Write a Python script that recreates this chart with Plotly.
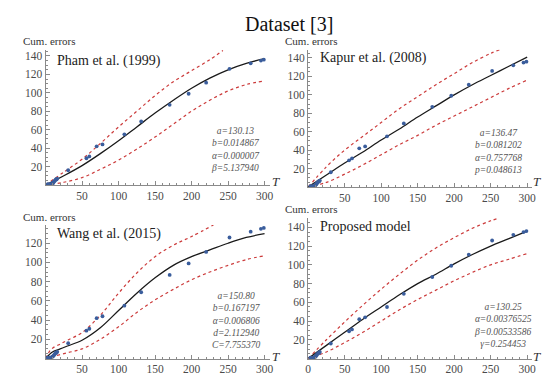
import plotly.graph_objects as go

# ---------------- data ----------------
obs_T = [3, 5, 8, 9, 10, 11, 12, 13, 14, 15, 16, 31, 56, 60, 70, 78, 108, 131, 170, 196, 220, 252, 281, 295, 299]
obs_v = [1, 1, 1, 2, 2, 3, 4, 5, 6, 6, 7, 16, 29, 31, 42, 44, 55, 69, 87, 99, 111, 126, 132, 135, 136]

# Pham et al. (1999)
pham_T = [0, 25, 50, 75, 100, 125, 150, 175, 200, 225, 250, 275, 300]
pham_fit = [0, 10, 21, 34, 48, 63, 78, 92, 105, 116, 125, 132, 137]
pham_up_T = [0, 25, 50, 75, 100, 125, 150, 175, 200, 225, 243]
pham_up = [0, 14, 28, 45, 63, 80, 97, 112, 124, 136, 146]
pham_lo = [0, 3, 8, 17, 27, 39, 52, 66, 80, 92, 102, 109, 113]

# Kapur et al. (2008)
kap_T = [0, 25, 50, 75, 100, 125, 150, 175, 200, 225, 250, 275, 300]
kap_fit = [0, 13, 26, 38, 51, 63, 76, 88, 100, 111, 121, 131, 141]
kap_up_T = [0, 25, 50, 75, 100, 125, 150, 175, 200, 225, 250, 262]
kap_up = [0, 22, 40, 55, 70, 85, 98, 111, 123, 135, 145, 149]
kap_lo = [0, 5, 14, 24, 35, 46, 56, 67, 77, 87, 97, 107, 116]

# Wang et al. (2015)
wang_T = [0, 5, 10, 20, 30, 50, 75, 100, 125, 150, 175, 200, 225, 250, 275, 300]
wang_fit = [0, 4, 7, 10, 13, 19, 32, 50, 68, 84, 97, 106, 113, 120, 126, 130]
wang_up_T = [0, 5, 10, 20, 30, 50, 75, 100, 125, 150, 175, 200, 230]
wang_up = [0, 7, 11, 15, 19, 27, 45, 68, 89, 106, 118, 127, 139]
wang_lo_T = [0, 10, 30, 50, 75, 100, 125, 150, 175, 200, 225, 250, 275, 300]
wang_lo = [0, 2, 6, 10, 20, 33, 48, 61, 72, 82, 90, 97, 103, 107]

# Proposed model
prop_T = [0, 25, 50, 75, 100, 125, 150, 175, 200, 225, 250, 275, 300]
prop_fit = [0, 14, 28, 42, 55, 68, 80, 90, 101, 111, 120, 128, 136]
prop_up_T = [0, 25, 50, 75, 100, 125, 150, 175, 200, 225, 250, 262]
prop_up = [0, 20, 39, 57, 74, 90, 105, 118, 129, 139, 147, 150]
prop_lo = [0, 7, 17, 28, 40, 52, 63, 73, 83, 92, 100, 106, 112]

titles = ["Pham et al. (1999)", "Kapur et al. (2008)", "Wang et al. (2015)", "Proposed model"]
params = [
    ["a=130.13", "b=0.014867", "α=0.000007", "β=5.137940"],
    ["a=136.47", "b=0.081202", "α=0.757768", "p=0.048613"],
    ["a=150.80", "b=0.167197", "α=0.006806", "d=2.112940", "C=7.755370"],
    ["a=130.25", "α=0.00376525", "β=0.00533586", "γ=0.254453"],
]

# ---------------- layout helpers ----------------
W, H = 550, 375
def fx(p): return p / W
def fy(p): return 1 - p / H

SERIF = "Liberation Serif, Times New Roman, serif"
BLACK = "#1a1a1a"
RED = "#cc3b3b"
BLUE = "#3a5d9c"
AXC = "#8a8a8a"
TXT = "#4a4a4a"

panels = [
    dict(x0=35, x1=262, yb=177, yt=41.5, ymax=147, yticks=[20, 40, 60, 80, 100, 120, 140], xt0=False),
    dict(x0=301, x1=528, yb=179, yt=41.7, ymax=149, yticks=[20, 40, 60, 80, 100, 120, 140], xt0=False),
    dict(x0=35, x1=262, yb=350.5, yt=217, ymax=139, yticks=[20, 40, 60, 80, 100, 120], xt0=False),
    dict(x0=301, x1=528, yb=350.5, yt=210, ymax=150, yticks=[20, 40, 60, 80, 100, 120, 140], xt0=True),
]

curves = [
    (pham_T, pham_fit, pham_up_T, pham_up, pham_T, pham_lo),
    (kap_T, kap_fit, kap_up_T, kap_up, kap_T, kap_lo),
    (wang_T, wang_fit, wang_up_T, wang_up, wang_lo_T, wang_lo),
    (prop_T, prop_fit, prop_up_T, prop_up, prop_T, prop_lo),
]

fig = go.Figure()
layout = dict(
    width=W, height=H, margin=dict(l=0, r=0, t=0, b=0),
    paper_bgcolor="white", plot_bgcolor="white", showlegend=False,
    font=dict(family=SERIF, color=TXT),
)
annotations = []

for i, (p, c) in enumerate(zip(panels, curves)):
    n = i + 1
    xa = "x" if n == 1 else f"x{n}"
    ya = "y" if n == 1 else f"y{n}"
    fT, fv, uT, uv, lT, lv = c
    fig.add_trace(go.Scatter(x=uT, y=uv, mode="lines", line=dict(color=RED, dash="dot", width=1.2, shape="spline"),
                             xaxis=xa, yaxis=ya))
    fig.add_trace(go.Scatter(x=lT, y=lv, mode="lines", line=dict(color=RED, dash="dot", width=1.2, shape="spline"),
                             xaxis=xa, yaxis=ya))
    fig.add_trace(go.Scatter(x=fT, y=fv, mode="lines", line=dict(color=BLACK, width=1.3, shape="spline"),
                             xaxis=xa, yaxis=ya))
    fig.add_trace(go.Scatter(x=obs_T, y=obs_v, mode="markers", marker=dict(color=BLUE, size=3.8),
                             cliponaxis=False, xaxis=xa, yaxis=ya))
    xticks = ([0] if p["xt0"] else []) + [50, 100, 150, 200, 250, 300]
    xk = "xaxis" if n == 1 else f"xaxis{n}"
    yk = "yaxis" if n == 1 else f"yaxis{n}"
    layout[xk] = dict(
        domain=[fx(p["x0"]), fx(p["x1"])], range=[0, 307], anchor=ya,
        showgrid=False, zeroline=False, showline=True, linecolor=AXC, linewidth=1,
        tickmode="array", tickvals=xticks, ticktext=[str(t) for t in xticks],
        ticks="inside", ticklen=4, tickcolor=AXC,
        minor=dict(ticks="inside", ticklen=2, tickcolor=AXC, dtick=10, showgrid=False),
        tickfont=dict(family=SERIF, size=11.5, color=TXT),
    )
    layout[yk] = dict(
        domain=[fy(p["yb"]), fy(p["yt"])], range=[0, p["ymax"]], anchor=xa,
        showgrid=False, zeroline=False, showline=True, linecolor=AXC, linewidth=1,
        tickmode="array", tickvals=p["yticks"], ticktext=[str(t) for t in p["yticks"]],
        ticks="inside", ticklen=4, tickcolor=AXC,
        minor=dict(ticks="inside", ticklen=2, tickcolor=AXC, dtick=5, showgrid=False),
        tickfont=dict(family=SERIF, size=11.5, color=TXT),
    )

cum_pos = [(10, 33), (276, 33), (10, 209), (276, 201)]
T_pos = [(268, 173), (533, 173), (268, 348), (533, 348)]
name_pos = [(45, 53), (311, 50), (45, 226), (311, 218)]
par_pos = [(227, 141), (493, 143), (228, 312), (498, 317)]

for i in range(4):
    annotations.append(dict(x=fx(cum_pos[i][0]), y=fy(cum_pos[i][1]), xref="paper", yref="paper",
                            text="Cum. errors", showarrow=False, xanchor="left", yanchor="middle",
                            font=dict(family=SERIF, size=11, color="#333")))
    annotations.append(dict(x=fx(T_pos[i][0]), y=fy(T_pos[i][1]), xref="paper", yref="paper",
                            text="<i>T</i>", showarrow=False, xanchor="center", yanchor="middle",
                            font=dict(family=SERIF, size=13, color="#333")))
    annotations.append(dict(x=fx(name_pos[i][0]), y=fy(name_pos[i][1]), xref="paper", yref="paper",
                            text=titles[i], showarrow=False, xanchor="left", yanchor="middle",
                            font=dict(family=SERIF, size=14, color="#222")))
    cx, cy = par_pos[i]
    annotations.append(dict(x=fx(cx), y=fy(cy), xref="paper", yref="paper",
                            text="<br>".join(f"<i>{s}</i>" for s in params[i]),
                            showarrow=False, xanchor="center", yanchor="middle", align="center",
                            font=dict(family=SERIF, size=9.5, color="#555")))

annotations.append(dict(x=fx(282), y=fy(16), xref="paper", yref="paper", text="Dataset [3]",
                        showarrow=False, xanchor="center", yanchor="middle",
                        font=dict(family=SERIF, size=20, color="#111")))

layout["annotations"] = annotations
fig.update_layout(**layout)
fig.write_html("out.html")
